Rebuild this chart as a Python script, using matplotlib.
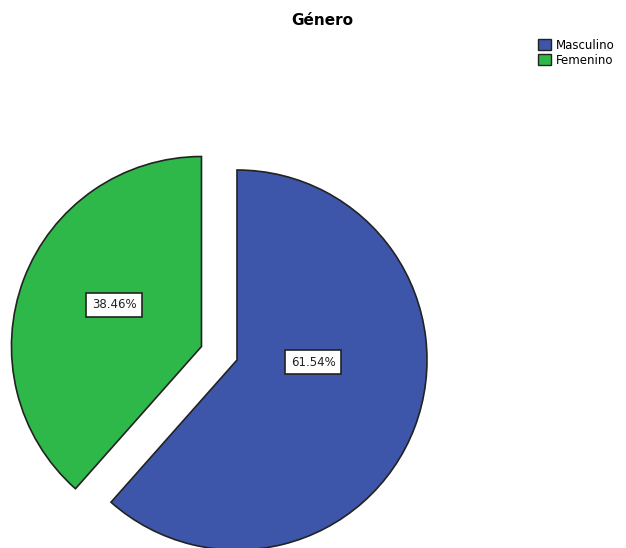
import matplotlib.pyplot as plt
from matplotlib.patches import Patch

# Género
labels = ["Masculino", "Femenino"]
values = [61.54, 38.46]
colors = ["#3e56aa", "#2fb84a"]

# where each percentage box sits (data units = pixels)
label_pos = [(313, 186), (114, 243)]

fig = plt.figure(figsize=(6.26, 5.48), dpi=100)
ax = fig.add_axes([0, 0, 1, 1])

R = 190
wedges, texts, autotexts = ax.pie(
    values,
    colors=colors,
    explode=[0, 0.2 * R],
    startangle=90,
    counterclock=False,
    center=(237, 188),
    radius=R,
    autopct="%.2f%%",
    wedgeprops=dict(edgecolor="#222222", linewidth=1.2),
    textprops=dict(fontsize=8.5, color="#222222"),
)
for t, p in zip(autotexts, label_pos):
    t.set_position(p)
    t.set_bbox(dict(boxstyle="square,pad=0.5", facecolor="white",
                    edgecolor="#222222", linewidth=1.2))

ax.set_xlim(0, 626)
ax.set_ylim(0, 548)
ax.set_aspect("equal")
ax.axis("off")

fig.text(0.514, 0.963, "Género", ha="center", va="center",
         fontsize=11, fontweight="bold")

handles = [Patch(facecolor=c, edgecolor="#222222", label=l) for c, l in zip(colors, labels)]
fig.legend(handles=handles, loc="upper left", bbox_to_anchor=(0.850, 0.94),
           frameon=False, fontsize=8.5, handlelength=1.1, handleheight=1.1,
           handletextpad=0.4, labelspacing=0.15, borderpad=0)

fig.savefig("out.png", dpi=100)
